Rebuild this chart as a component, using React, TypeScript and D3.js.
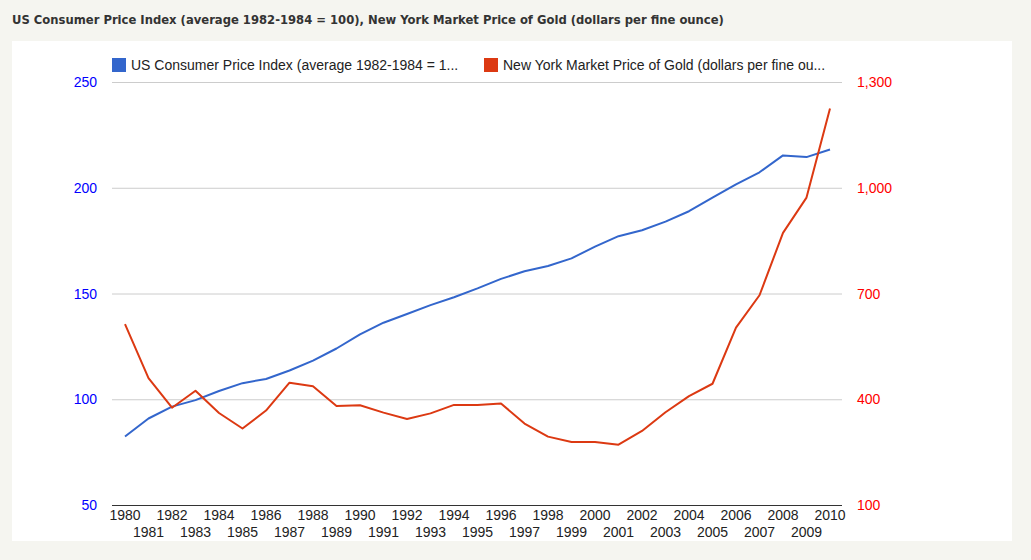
import { useEffect, useRef } from 'react';
import * as d3 from 'd3';

// values
const years = d3.range(1980, 2011);
const cpi = [82.4, 90.9, 96.5, 99.6, 103.9, 107.6, 109.6, 113.6, 118.3, 124.0, 130.7, 136.2, 140.3, 144.5, 148.2, 152.4, 156.9, 160.5, 163.0, 166.6, 172.2, 177.1, 179.9, 184.0, 188.9, 195.3, 201.6, 207.3, 215.3, 214.5, 218.1];
const gold = [613, 460, 376, 424, 361, 317, 368, 447, 437, 381, 383, 362, 344, 360, 384, 384, 388, 331, 294, 279, 279, 271, 310, 363, 409, 444, 603, 695, 872, 972, 1225];
const leftTicks = [50, 100, 150, 200, 250];
const rightTicks = [100, 400, 700, 1000, 1300];
const title = 'US Consumer Price Index (average 1982-1984 = 100), New York Market Price of Gold (dollars per fine ounce)';
const legendLabels = ['US Consumer Price Index (average 1982-1984 = 1...', 'New York Market Price of Gold (dollars per fine ou...'];
const colors = ['#3366cc', '#dc3912'];

export default function App() {
  const svgRef = useRef<SVGSVGElement>(null);

  useEffect(() => {
    if (!svgRef.current) return;
    const svg = d3.select(svgRef.current);
    svg.selectAll('*').remove();

    const W = 1031, H = 560;
    const font = 'Arial, "Liberation Sans", sans-serif';

    svg.append('rect').attr('width', W).attr('height', H).attr('fill', '#f5f5f0');
    svg.append('rect').attr('x', 12).attr('y', 41).attr('width', 1000).attr('height', 500).attr('fill', '#fff');

    svg.append('text')
      .attr('x', 12).attr('y', 24)
      .attr('font-family', '"DejaVu Sans", Verdana, sans-serif')
      .attr('font-weight', 'bold')
      .attr('font-size', 11.6)
      .attr('fill', '#333')
      .text(title);

    const x = d3.scaleLinear().domain([1980, 2010]).range([125, 830]);
    const yL = d3.scaleLinear().domain([50, 250]).range([505, 82]);
    const yR = d3.scaleLinear().domain([100, 1300]).range([505, 82]);

    // gridlines
    svg.append('g')
      .selectAll('line')
      .data(leftTicks.slice(1))
      .enter()
      .append('line')
      .attr('x1', 112).attr('x2', 842)
      .attr('y1', (d) => yL(d) + 0.5).attr('y2', (d) => yL(d) + 0.5)
      .attr('stroke', '#cccccc');

    svg.append('line')
      .attr('x1', 112).attr('x2', 842)
      .attr('y1', yL(50) + 0.5).attr('y2', yL(50) + 0.5)
      .attr('stroke', '#333');

    // left axis labels
    svg.append('g')
      .selectAll('text')
      .data(leftTicks)
      .enter()
      .append('text')
      .attr('x', 97).attr('y', (d) => yL(d) + 5)
      .attr('text-anchor', 'end')
      .attr('font-family', font).attr('font-size', 14)
      .attr('fill', '#0000ff')
      .text((d) => d3.format(',')(d));

    // right axis labels
    svg.append('g')
      .selectAll('text')
      .data(rightTicks)
      .enter()
      .append('text')
      .attr('x', 857).attr('y', (d) => yR(d) + 5)
      .attr('font-family', font).attr('font-size', 14)
      .attr('fill', '#ff0000')
      .text((d) => d3.format(',')(d));

    // x labels, staggered
    svg.append('g')
      .selectAll('text')
      .data(years)
      .enter()
      .append('text')
      .attr('x', (d) => x(d))
      .attr('y', (d) => (d % 2 === 0 ? 520 : 537))
      .attr('text-anchor', 'middle')
      .attr('font-family', font).attr('font-size', 14)
      .attr('fill', '#222')
      .text((d) => d);

    const lineL = d3.line<number>().x((_, i) => x(years[i])).y((d) => yL(d));
    const lineR = d3.line<number>().x((_, i) => x(years[i])).y((d) => yR(d));

    svg.append('path').attr('d', lineL(cpi)).attr('fill', 'none')
      .attr('stroke', colors[0]).attr('stroke-width', 2).attr('stroke-linejoin', 'round');
    svg.append('path').attr('d', lineR(gold)).attr('fill', 'none')
      .attr('stroke', colors[1]).attr('stroke-width', 2).attr('stroke-linejoin', 'round');

    // legend
    const legendX = [112, 484];
    legendLabels.forEach((label, i) => {
      svg.append('rect')
        .attr('x', legendX[i]).attr('y', 58).attr('width', 14).attr('height', 14)
        .attr('fill', colors[i]);
      svg.append('text')
        .attr('x', legendX[i] + 19).attr('y', 70)
        .attr('font-family', font).attr('font-size', 14)
        .attr('fill', '#222')
        .text(label);
    });
  }, []);

  return (
    <svg
      ref={svgRef}
      width={1031}
      height={560}
      style={{ position: 'absolute', left: 0, top: 0, display: 'block' }}
    />
  );
}
